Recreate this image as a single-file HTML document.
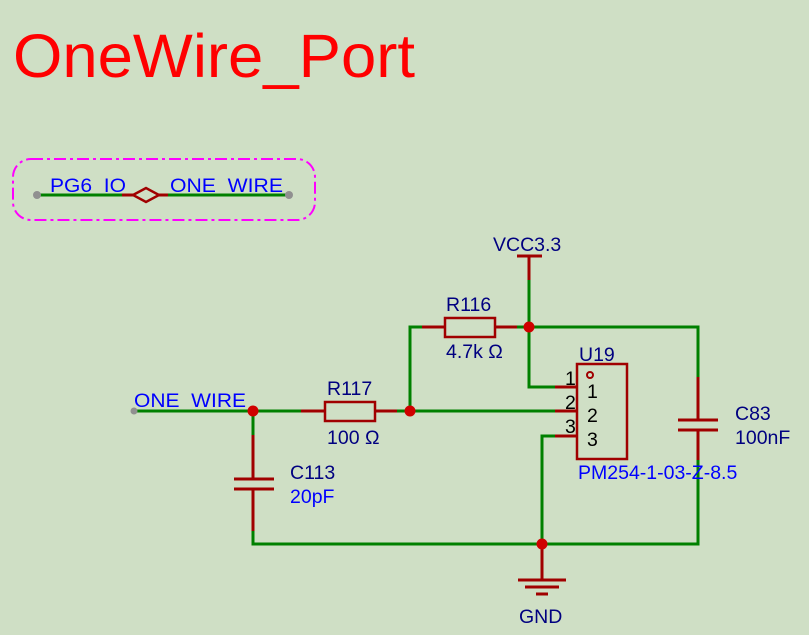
<!DOCTYPE html>
<html><head><meta charset="utf-8"><style>
html,body{margin:0;padding:0;background:#cfdfc5;}
svg{display:block;font-family:"Liberation Sans",sans-serif;}
text{white-space:pre;}
</style></head><body>
<svg width="809" height="635" viewBox="0 0 809 635" xml:space="preserve">
<rect width="809" height="635" fill="#cfdfc5"/>
<text x="13" y="77" font-size="61" fill="#ff0000" textLength="402" lengthAdjust="spacingAndGlyphs">OneWire_Port</text>
<rect x="13" y="159" width="302" height="61" rx="18" fill="none" stroke="#ff00ff" stroke-width="2" stroke-dasharray="12,4,3,4"/>
<g stroke-width="3" fill="none">
<path d="M37 195H122M168 195H289" stroke="#008000"/>
<path d="M122 195H133M158 195H168" stroke="#a00000"/>
<path d="M133 195L146 188L159 195L146 202Z" stroke="#a00000" stroke-width="2.5"/>
</g>
<circle cx="37" cy="195" r="4" fill="#909090"/><circle cx="289" cy="195" r="4" fill="#909090"/>
<text x="50" y="192" font-size="19" fill="#0000ff" textLength="76" lengthAdjust="spacingAndGlyphs">PG6  IO</text>
<text x="170" y="192" font-size="19" fill="#0000ff" textLength="113" lengthAdjust="spacingAndGlyphs">ONE  WIRE</text>

<g fill="none" stroke-width="3">
<path d="M134 411H301M375 411H397M397 411H555M410 411V327H422M517 327H698V377M529 280V387H555M555 436H542V544M253 411V435M253 531V544H698V460" stroke="#008000"/>
<path d="M301 411H325M375 411H397M422 327H445M495 327H517M555 387H577M555 411H577M555 436H577M529 256V280M253 435V479M253 489V531M698 377V420M698 430V460M542 544V580" stroke="#a00000"/>
<rect x="325" y="402" width="50" height="19" stroke="#a00000" stroke-width="2.5"/>
<rect x="445" y="318" width="50" height="19" stroke="#a00000" stroke-width="2.5"/>
<rect x="577" y="364" width="50" height="95" stroke="#a00000" stroke-width="2.5"/>
<path d="M517 256H542M234 479H274M234 489H274M678 420H718M678 430H718M518 580H566M525 587H559M536 594H548" stroke="#a00000"/>
</g>
<circle cx="590" cy="375" r="3" fill="none" stroke="#a00000" stroke-width="2"/>
<circle cx="134" cy="411" r="3.5" fill="#909090"/>
<g fill="#d00000"><circle cx="253" cy="411" r="5.5"/><circle cx="410" cy="411" r="5.5"/><circle cx="529" cy="327" r="5.5"/><circle cx="542" cy="544" r="5.5"/></g>
<g font-size="19.5" fill="#000080">
<text x="493" y="251">VCC3.3</text>
<text x="446" y="311">R116</text>
<text x="446" y="358">4.7k Ω</text>
<text x="579" y="361">U19</text>
<text x="327" y="395">R117</text>
<text x="327" y="444">100 Ω</text>
<text x="290" y="479">C113</text>
<text x="735" y="420">C83</text>
<text x="735" y="444">100nF</text>
<text x="519" y="623">GND</text>
</g>
<g font-size="19.5" fill="#000000">
<text x="565" y="385">1</text><text x="565" y="409">2</text><text x="565" y="433">3</text>
<text x="587" y="398">1</text><text x="587" y="422">2</text><text x="587" y="446">3</text>
</g>
<g font-size="19.5" fill="#0000ff">
<text x="134" y="407" textLength="112" lengthAdjust="spacingAndGlyphs">ONE  WIRE</text>
<text x="290" y="503">20pF</text>
<text x="578" y="479">PM254-1-03-Z-8.5</text>
</g>
</svg>
</body></html>
